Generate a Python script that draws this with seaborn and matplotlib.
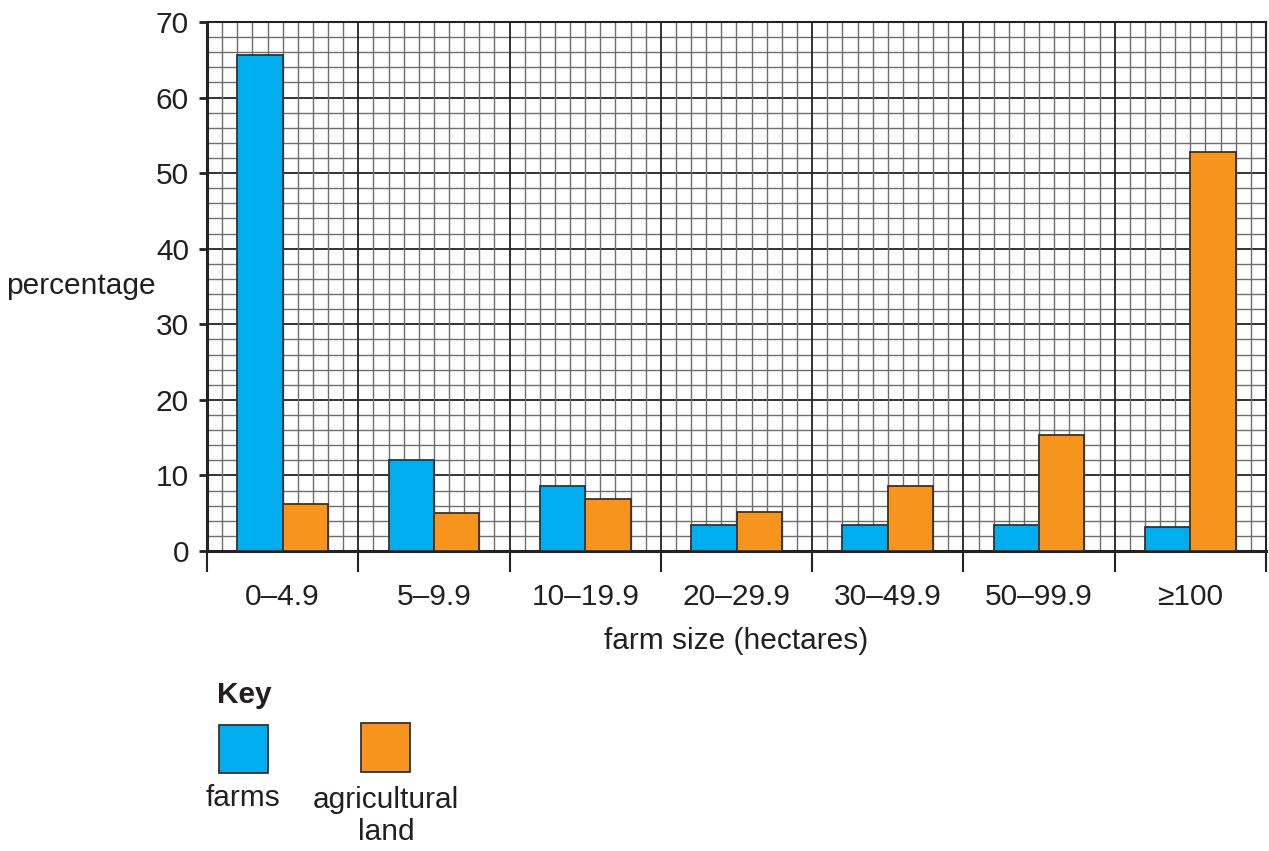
import numpy as np
import pandas as pd
import matplotlib.pyplot as plt
import seaborn as sns
from matplotlib.patches import Rectangle

# Values
sizes = ["0\u20134.9", "5\u20139.9", "10\u201319.9", "20\u201329.9",
         "30\u201349.9", "50\u201399.9", "\u2265100"]
farms = [65.6, 12.1, 8.6, 3.4, 3.4, 3.5, 3.2]
agri_land = [6.2, 5.0, 6.9, 5.1, 8.6, 15.4, 52.8]
series_names = ["farms", "agricultural land"]
colors = ["#00AEEF", "#F7941D"]

df = pd.DataFrame({
    "size": sizes * 2,
    "pct": farms + agri_land,
    "series": [series_names[0]] * len(sizes) + [series_names[1]] * len(sizes),
})

sns.set_theme(style="white")
plt.rcParams["font.family"] = ["Liberation Sans", "DejaVu Sans"]
txt_col = "#231f20"
fs = 21.5

fig = plt.figure(figsize=(12.69, 8.51), dpi=100)
ax = fig.add_axes([207 / 1269, 1 - 551 / 851, 1059 / 1269, 529 / 851])

sns.barplot(data=df, x="size", y="pct", hue="series", palette=colors,
            saturation=1, width=0.6, gap=0, edgecolor="#333333",
            linewidth=1.3, legend=False, ax=ax, zorder=3)

ax.set_xlim(-0.5, len(sizes) - 0.5)
ax.set_ylim(0, 70)

# graph-paper grid
for y in np.arange(0, 70.01, 2):
    major = y % 10 == 0
    ax.axhline(y, color="#222222" if major else "#6e6e6e",
               lw=1.3 if major else 1.0, zorder=1)
for x in np.arange(-0.5, len(sizes) - 0.5 + 0.001, 0.1):
    major = abs((x + 0.5) - round(x + 0.5)) < 1e-6
    ax.axvline(x, color="#222222" if major else "#6e6e6e",
               lw=1.3 if major else 1.0, zorder=1)

for s in ax.spines.values():
    s.set_color("#222222")
    s.set_linewidth(1.5)
ax.spines["left"].set_linewidth(2.2)
ax.spines["bottom"].set_linewidth(2.2)

# y ticks
ax.set_yticks(np.arange(0, 71, 10))
ax.tick_params(axis="y", length=6, width=2, color="#222222", pad=7,
               labelsize=fs, labelcolor=txt_col, left=True)

# x ticks at category boundaries, labels at centres
ax.set_xticks(np.arange(-0.5, len(sizes), 1.0))
ax.set_xticklabels([])
ax.tick_params(axis="x", which="major", length=15, width=1.5,
               color="#222222", bottom=True)
ax.set_xticks(np.arange(len(sizes)), minor=True)
ax.set_xticklabels(sizes, minor=True)
ax.tick_params(axis="x", which="minor", length=0, pad=23,
               labelsize=fs, labelcolor=txt_col)

ax.set_xlabel("farm size (hectares)", fontsize=fs, color=txt_col)
ax.xaxis.set_label_coords(0.5, -0.17)
ax.xaxis.label.set_va("center")
ax.set_ylabel("percentage", fontsize=fs, color=txt_col, rotation=0,
              ha="right", va="center")
ax.yaxis.set_label_coords(-0.048, 0.5)

# key drawn below the chart
fig.text(217 / 1269, 1 - 695 / 851, "Key", fontsize=fs, fontweight="bold",
         color=txt_col, ha="left", va="center")
fig.add_artist(Rectangle((219 / 1269, 1 - 773 / 851), 49 / 1269, 48 / 851,
                         transform=fig.transFigure, facecolor=colors[0],
                         edgecolor="#333333", lw=1.3))
fig.add_artist(Rectangle((361 / 1269, 1 - 772 / 851), 49 / 1269, 49 / 851,
                         transform=fig.transFigure, facecolor=colors[1],
                         edgecolor="#333333", lw=1.3))
fig.text(243 / 1269, 1 - 798 / 851, "farms", fontsize=fs, color=txt_col,
         ha="center", va="center")
fig.text(386 / 1269, 1 - 816 / 851, "agricultural\nland", fontsize=fs,
         color=txt_col, ha="center", va="center", multialignment="center",
         linespacing=1.2)

fig.savefig("out.png", dpi=100)
